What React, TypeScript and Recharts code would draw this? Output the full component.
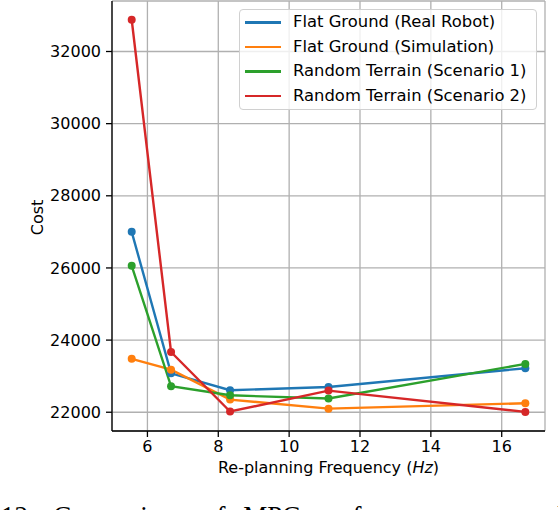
import React from "react";
import { LineChart, Line, XAxis, YAxis, CartesianGrid, Legend } from "recharts";

// re-planning frequencies (Hz)
const freqs = [5.556, 6.667, 8.333, 11.111, 16.667];

const flatReal = [27000, 23080, 22610, 22700, 23220];
const flatSim = [23480, 23180, 22350, 22100, 22250];
const terrain1 = [26060, 22720, 22470, 22380, 23340];
const terrain2 = [32880, 23670, 22020, 22600, 22010];

const xTicks = [6, 8, 10, 12, 14, 16];
const yTicks = [22000, 24000, 26000, 28000, 30000, 32000];

const series = [
	{ key: "real", name: "Flat Ground (Real Robot)", color: "#1f77b4", values: flatReal },
	{ key: "sim", name: "Flat Ground (Simulation)", color: "#ff7f0e", values: flatSim },
	{ key: "s1", name: "Random Terrain (Scenario 1)", color: "#2ca02c", values: terrain1 },
	{ key: "s2", name: "Random Terrain (Scenario 2)", color: "#d62728", values: terrain2 },
];

const data = freqs.map((f, i) => {
	const row: any = { freq: f };
	series.forEach(s => { row[s.key] = s.values[i]; });
	return row;
});

const FONT = "'DejaVu Sans', sans-serif";
const tickStyle = { fill: "#000", fontSize: 16, fontFamily: FONT };

function LegendBox() {
	return (
		<div style={{ boxSizing: "border-box", width: 298, height: 101, border: "1.3px solid #d0d0d0", borderRadius: 4, background: "rgba(255,255,255,0.8)", paddingTop: 0.5 }}>
			{series.map(s => (
				<div key={s.key} style={{ display: "flex", alignItems: "center", height: 24.4 }}>
					<span style={{ marginLeft: 5, width: 36, height: 2.5, background: s.color, display: "inline-block" }} />
					<span style={{ marginLeft: 12, fontFamily: FONT, fontSize: 16.4, color: "#000", lineHeight: 1, whiteSpace: "pre" }}>{s.name}</span>
				</div>
			))}
		</div>
	);
}

export default function App() {
	return (
		<div style={{ position: "absolute", left: 0, top: 0, width: 558, height: 510, overflow: "hidden", background: "#fff" }}>
			<LineChart width={558} height={510} data={data} margin={{ top: 1, right: 13, left: 0, bottom: 0 }}>
				<CartesianGrid stroke="#b0b0b0" strokeWidth={1.3} />
				<XAxis dataKey="freq" type="number" domain={[5.0, 17.222]} ticks={xTicks} allowDataOverflow
					height={79} stroke="#000" strokeWidth={1.3} tickSize={6} tickMargin={4} tick={tickStyle}
					label={{ content: () => (
						<text x={328.5} y={472.5} textAnchor="middle" fill="#000" fontSize={16} fontFamily={FONT}>
							Re-planning Frequency (<tspan fontStyle="italic">Hz</tspan>)
						</text>
					) }} />
				<XAxis xAxisId="top" dataKey="freq" type="number" domain={[5.0, 17.222]} orientation="top" height={0} tick={false} tickLine={false} stroke="#000" strokeWidth={1.3} />
				<YAxis type="number" domain={[21480, 33400]} ticks={yTicks} allowDataOverflow
					width={112} stroke="#000" strokeWidth={1.3} tickSize={6} tickMargin={5} tick={tickStyle}
					label={{ content: () => (
						<text x={42.7} y={217.5} transform="rotate(-90 42.7 217.5)" textAnchor="middle" fill="#000" fontSize={16} fontFamily={FONT}>Cost</text>
					) }} />
				<YAxis yAxisId="right" type="number" domain={[21480, 33400]} orientation="right" width={0} tick={false} tickLine={false} stroke="#000" strokeWidth={1.3} />
				{series.map(s => (
					<Line key={s.key} type="linear" dataKey={s.key} name={s.name} stroke={s.color} strokeWidth={2.4}
						dot={{ r: 4, fill: s.color, stroke: s.color, strokeWidth: 0 }} activeDot={false} isAnimationActive={false} />
				))}
				<Legend layout="vertical" align="center" verticalAlign="middle" content={() => <LegendBox />}
					wrapperStyle={{ left: 239, top: 9, width: 298, height: 101 }} />
			</LineChart>
			<svg width={558} height={510} style={{ position: "absolute", left: 0, top: 0, pointerEvents: "none" }}>
				<text x={1} y={525} fontSize={27} fontFamily="'Liberation Serif', serif" fill="#000" style={{ wordSpacing: 11, whiteSpace: "pre" }}>
					12: Comparison of MPC performance across both
				</text>
			</svg>
		</div>
	);
}
